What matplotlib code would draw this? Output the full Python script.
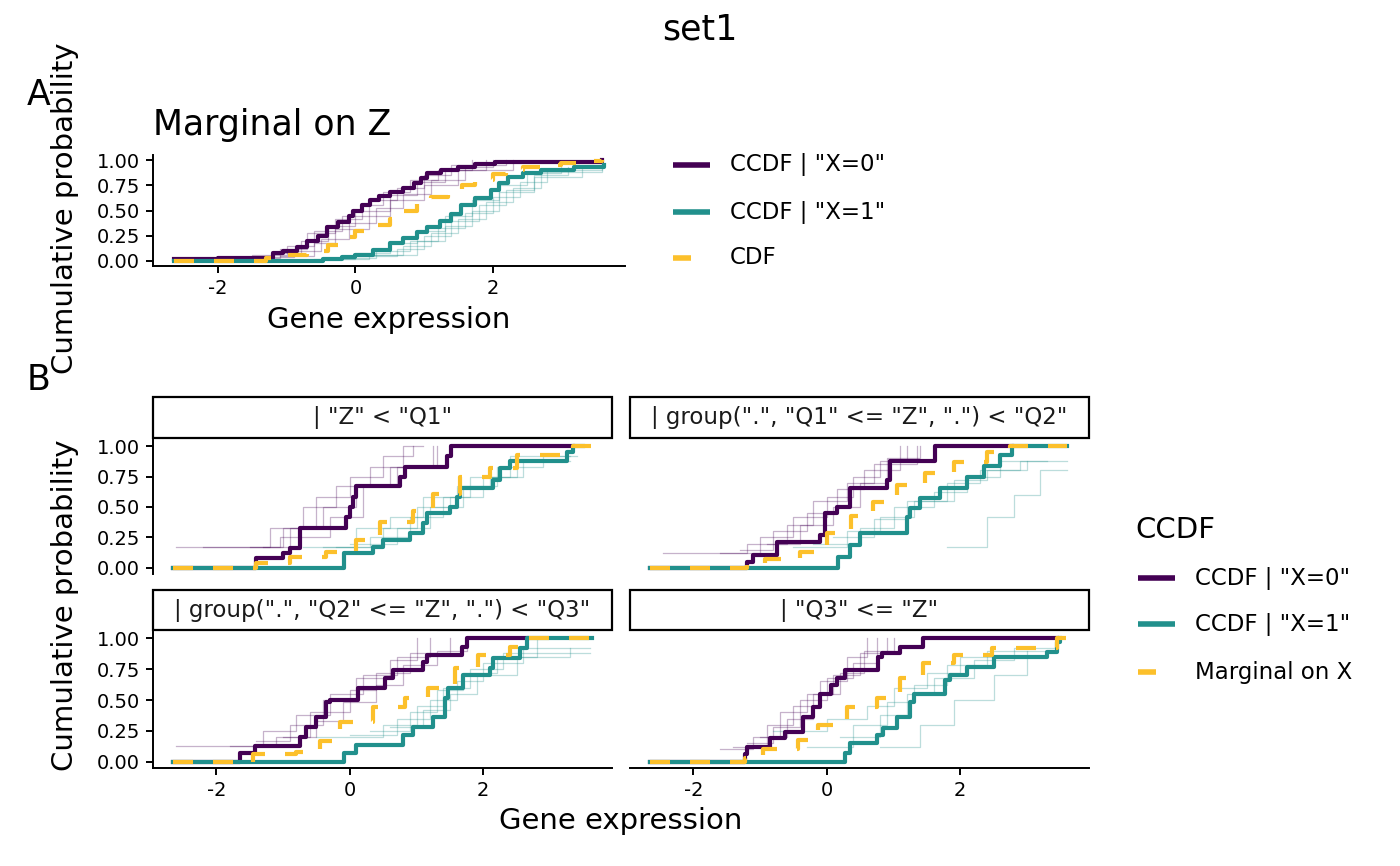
import matplotlib
matplotlib.use("Agg")
import matplotlib.pyplot as plt
from matplotlib.lines import Line2D
from matplotlib.patches import Rectangle

plt.rcParams['font.family'] = ['DejaVu Sans']
plt.rcParams['axes.unicode_minus'] = False

W, H = 1400, 866
PURPLE = '#440154'
TEAL = '#21908C'
YELLOW = '#FCC02B'

# ---- panel A: marginal on Z ----
a_ccdf0_x = [-2.65, -2.0, -1.2, -1.05, -0.85, -0.7, -0.55, -0.41, -0.25, -0.1, -0.03, 0.1, 0.22, 0.35, 0.51, 0.7, 0.85, 0.95, 1.05, 1.25, 1.5, 1.75, 2.03, 3.6]
a_ccdf0_y = [0.02, 0.03, 0.08, 0.1, 0.14, 0.2, 0.25, 0.34, 0.39, 0.45, 0.5, 0.55, 0.6, 0.64, 0.68, 0.72, 0.77, 0.82, 0.87, 0.9, 0.93, 0.96, 0.98, 1.0]
a_ccdf1_x = [-2.65, -0.47, -0.2, 0.0, 0.25, 0.51, 0.7, 0.9, 1.05, 1.24, 1.4, 1.54, 1.75, 1.98, 2.1, 2.22, 2.45, 2.7, 3.18, 3.63]
a_ccdf1_y = [0.0, 0.02, 0.04, 0.06, 0.11, 0.18, 0.23, 0.29, 0.34, 0.4, 0.47, 0.55, 0.62, 0.70, 0.77, 0.83, 0.87, 0.9, 0.93, 0.95]
a_cdf_x = [-2.65, -1.3, -1.0, -0.7, -0.4, -0.15, 0.0, 0.25, 0.5, 0.7, 0.9, 1.1, 1.35, 1.55, 1.75, 2.0, 2.2, 2.45, 2.7, 3.0, 3.4, 3.6]
a_cdf_y = [0.0, 0.03, 0.06, 0.1, 0.16, 0.24, 0.3, 0.36, 0.42, 0.5, 0.57, 0.63, 0.69, 0.75, 0.8, 0.86, 0.9, 0.93, 0.95, 0.97, 0.99, 1.0]

a_thin0 = [
    ([-2.0, -1.5, -1.0, -0.6, -0.2, 0.2, 0.6, 1.0, 1.4, 2.2], [0.02, 0.06, 0.15, 0.3, 0.45, 0.6, 0.72, 0.85, 0.95, 1.0]),
    ([-1.6, -1.1, -0.7, -0.3, 0.1, 0.4, 0.8, 1.2, 1.7], [0.03, 0.12, 0.28, 0.42, 0.55, 0.68, 0.8, 0.9, 1.0]),
    ([-1.3, -0.9, -0.5, -0.1, 0.3, 0.7, 1.1, 1.6, 2.0], [0.04, 0.1, 0.22, 0.38, 0.52, 0.66, 0.8, 0.93, 1.0]),
    ([-1.8, -1.2, -0.8, -0.4, 0.0, 0.5, 0.9, 1.3, 1.9], [0.02, 0.08, 0.2, 0.35, 0.5, 0.65, 0.78, 0.9, 1.0]),
    ([-1.1, -0.6, -0.3, 0.2, 0.5, 1.0, 1.5, 2.3], [0.05, 0.18, 0.32, 0.45, 0.6, 0.75, 0.9, 1.0]),
]
a_thin1 = [
    ([-0.6, 0.0, 0.5, 0.9, 1.3, 1.7, 2.1, 2.5, 3.0], [0.02, 0.08, 0.18, 0.3, 0.45, 0.6, 0.75, 0.87, 0.95]),
    ([-0.3, 0.3, 0.8, 1.2, 1.6, 2.0, 2.4, 2.8, 3.6], [0.03, 0.1, 0.2, 0.33, 0.48, 0.63, 0.78, 0.9, 0.95]),
    ([0.0, 0.6, 1.0, 1.4, 1.8, 2.2, 2.6, 3.1], [0.05, 0.12, 0.25, 0.4, 0.55, 0.7, 0.85, 0.93]),
    ([-0.5, 0.2, 0.7, 1.1, 1.5, 1.9, 2.3, 2.7, 3.6], [0.02, 0.06, 0.15, 0.28, 0.42, 0.58, 0.72, 0.88, 0.97]),
    ([0.2, 0.9, 1.3, 1.7, 2.1, 2.6, 3.3], [0.06, 0.2, 0.35, 0.5, 0.68, 0.83, 0.94]),
]

# ---- panel B: conditional on Z quartile ----
strip_labels = ['| "Z" < "Q1"',
                '| group(".", "Q1" <= "Z", ".") < "Q2"',
                '| group(".", "Q2" <= "Z", ".") < "Q3"',
                '| "Q3" <= "Z"']

b_ccdf0_x = [
    [-2.65, -1.4, -1.0, -0.9, -0.75, -0.05, 0.0, 0.05, 0.1, 0.75, 0.82, 1.45, 1.52, 3.35],
    [-2.65, -1.2, -1.1, -0.75, -0.1, -0.03, 0.15, 0.35, 0.9, 0.95, 1.62, 2.77],
    [-2.65, -1.65, -1.42, -0.75, -0.65, -0.5, -0.35, -0.3, 0.12, 0.52, 0.65, 1.1, 1.15, 1.68, 1.75, 2.65],
    [-2.65, -1.23, -1.2, -0.85, -0.63, -0.36, -0.21, -0.1, 0.07, 0.15, 0.27, 0.77, 0.82, 1.1, 1.44, 3.45],
]
b_ccdf0_y = [
    [0, 0.083, 0.125, 0.167, 0.33, 0.42, 0.5, 0.58, 0.67, 0.75, 0.83, 0.92, 1.0, 1.0],
    [0, 0.05, 0.11, 0.21, 0.27, 0.45, 0.5, 0.66, 0.72, 0.88, 1.0, 1.0],
    [0, 0.07, 0.13, 0.2, 0.28, 0.36, 0.48, 0.5, 0.6, 0.68, 0.74, 0.81, 0.86, 0.93, 1.0, 1.0],
    [0, 0.06, 0.12, 0.19, 0.24, 0.36, 0.44, 0.55, 0.62, 0.68, 0.74, 0.85, 0.88, 0.93, 1.0, 1.0],
]
b_ccdf1_x = [
    [-2.65, -0.08, 0.35, 0.5, 0.9, 1.1, 1.15, 1.5, 1.6, 1.65, 2.15, 2.25, 2.4, 3.25, 3.35, 3.5],
    [-2.65, 0.17, 0.35, 0.5, 1.2, 1.25, 1.4, 1.7, 2.1, 2.35, 2.6, 2.77, 3.6],
    [-2.65, -0.08, 0.1, 0.8, 0.95, 1.25, 1.42, 1.47, 1.7, 2.1, 2.15, 2.55, 2.65, 3.63],
    [-2.65, 0.27, 0.35, 0.75, 0.84, 1.05, 1.25, 1.3, 1.77, 1.85, 2.1, 2.5, 3.3, 3.45, 3.5],
]
b_ccdf1_y = [
    [0, 0.12, 0.17, 0.23, 0.29, 0.37, 0.45, 0.5, 0.58, 0.66, 0.72, 0.82, 0.88, 0.95, 1.0, 1.0],
    [0, 0.09, 0.19, 0.29, 0.42, 0.49, 0.57, 0.66, 0.75, 0.84, 0.93, 1.0, 1.0],
    [0, 0.07, 0.14, 0.22, 0.28, 0.36, 0.52, 0.6, 0.7, 0.76, 0.84, 0.92, 1.0, 1.0],
    [0, 0.07, 0.15, 0.22, 0.27, 0.36, 0.48, 0.55, 0.66, 0.7, 0.77, 0.85, 0.89, 0.97, 1.0],
]
b_cdf_x = [
    [-2.65, -1.4, -0.9, -0.35, 0.1, 0.45, 0.95, 1.25, 1.65, 2.1, 2.5, 3.2, 3.35, 3.63],
    [-2.65, -1.2, -0.93, -0.4, 0.0, 0.37, 0.69, 1.05, 1.47, 1.9, 2.4, 2.75, 3.6],
    [-2.65, -1.45, -0.8, -0.45, -0.15, 0.35, 0.82, 1.17, 1.57, 1.92, 2.4, 2.65, 3.63],
    [-2.65, -1.23, -0.96, -0.43, -0.13, 0.3, 0.75, 1.1, 1.44, 1.9, 2.47, 3.45, 3.6],
]
b_cdf_y = [
    [0, 0.04, 0.09, 0.13, 0.23, 0.38, 0.47, 0.61, 0.75, 0.82, 0.93, 0.95, 1.0, 1.0],
    [0, 0.02, 0.07, 0.13, 0.29, 0.43, 0.54, 0.68, 0.78, 0.87, 0.95, 1.0, 1.0],
    [0, 0.06, 0.08, 0.17, 0.32, 0.44, 0.52, 0.6, 0.76, 0.86, 0.93, 1.0, 1.0],
    [0, 0.03, 0.1, 0.18, 0.3, 0.44, 0.52, 0.68, 0.8, 0.86, 0.92, 1.0, 1.0],
]

b_thin0 = [
    [([-2.6, -1.2, -0.7, -0.2, 0.3, 0.8, 1.1], [0.17, 0.33, 0.5, 0.67, 0.83, 1.0, 1.0]),
     ([-2.2, -1.0, -0.4, 0.1, 0.6, 1.25], [0.17, 0.33, 0.5, 0.67, 0.83, 1.0]),
     ([-1.5, -0.9, -0.5, 0.0, 0.5, 0.95], [0.17, 0.33, 0.58, 0.75, 0.92, 1.0]),
     ([-1.3, -1.05, -0.3, 0.2, 0.7, 1.3], [0.17, 0.25, 0.42, 0.67, 0.83, 1.0])],
    [([-2.45, -1.0, -0.5, 0.0, 0.4, 0.8, 1.2], [0.12, 0.25, 0.42, 0.58, 0.75, 0.88, 1.0]),
     ([-1.6, -1.2, -0.6, -0.2, 0.3, 0.7, 1.35], [0.12, 0.2, 0.35, 0.55, 0.7, 0.85, 1.0]),
     ([-1.3, -0.8, -0.3, 0.15, 0.55, 1.1], [0.15, 0.3, 0.45, 0.65, 0.8, 1.0]),
     ([-0.9, -0.4, 0.1, 0.5, 0.9, 1.4], [0.2, 0.35, 0.5, 0.7, 0.9, 1.0])],
    [([-2.6, -1.3, -0.8, -0.3, 0.2, 0.7, 1.2], [0.13, 0.25, 0.38, 0.55, 0.7, 0.85, 1.0]),
     ([-1.8, -1.1, -0.6, 0.0, 0.4, 0.9, 1.5], [0.13, 0.2, 0.4, 0.58, 0.72, 0.88, 1.0]),
     ([-1.4, -0.9, -0.4, 0.1, 0.6, 1.0], [0.17, 0.3, 0.5, 0.68, 0.82, 1.0]),
     ([-1.0, -0.5, -0.1, 0.4, 0.8, 1.3, 1.75], [0.2, 0.33, 0.48, 0.62, 0.78, 0.9, 1.0])],
    [([-1.4, -0.9, -0.5, -0.1, 0.3, 0.6], [0.12, 0.3, 0.45, 0.65, 0.85, 1.0]),
     ([-1.6, -1.1, -0.7, -0.3, 0.1, 0.5, 0.9], [0.1, 0.2, 0.4, 0.55, 0.7, 0.88, 1.0]),
     ([-1.2, -0.8, -0.4, 0.0, 0.4, 0.75], [0.15, 0.28, 0.5, 0.68, 0.8, 1.0]),
     ([-1.0, -0.6, -0.2, 0.2, 0.55, 1.0], [0.2, 0.35, 0.55, 0.72, 0.9, 1.0])],
]
b_thin1 = [
    [([-0.7, 0.1, 0.6, 1.1, 1.6, 2.1, 2.6, 3.3], [0.17, 0.33, 0.42, 0.58, 0.67, 0.75, 0.88, 0.88]),
     ([-0.4, 0.3, 0.9, 1.4, 1.8, 2.4, 3.3], [0.17, 0.25, 0.42, 0.58, 0.75, 0.92, 0.92]),
     ([-0.2, 0.5, 1.2, 1.7, 2.2, 2.9, 3.4], [0.17, 0.33, 0.5, 0.67, 0.83, 0.92, 0.92]),
     ([0.0, 0.7, 1.0, 1.5, 2.0, 2.5, 3.0], [0.2, 0.33, 0.5, 0.58, 0.75, 0.88, 0.88])],
    [([-0.5, 0.3, 0.8, 1.3, 1.8, 2.3, 2.9, 3.6], [0.17, 0.3, 0.42, 0.55, 0.7, 0.8, 0.88, 0.88]),
     ([-0.2, 0.5, 1.0, 1.6, 2.1, 2.6, 3.3], [0.2, 0.33, 0.5, 0.62, 0.75, 0.88, 0.88]),
     ([0.1, 0.7, 1.2, 1.9, 2.4, 3.0], [0.25, 0.4, 0.55, 0.72, 0.8, 0.88]),
     ([1.8, 2.4, 2.8, 3.2, 3.6], [0.17, 0.42, 0.6, 0.8, 0.8])],
    [([-0.5, 0.5, 1.0, 1.4, 1.8, 2.3, 3.6], [0.2, 0.3, 0.45, 0.6, 0.75, 0.88, 0.88]),
     ([0.0, 0.7, 1.2, 1.6, 2.0, 2.6, 3.6], [0.22, 0.35, 0.5, 0.65, 0.8, 0.92, 0.92]),
     ([0.3, 0.9, 1.3, 1.7, 2.2, 2.8], [0.25, 0.4, 0.58, 0.72, 0.85, 1.0]),
     ([0.6, 1.1, 1.5, 1.9, 2.5, 3.3], [0.28, 0.42, 0.55, 0.7, 0.85, 0.92])],
    [([-0.8, 0.0, 0.6, 1.0, 1.5, 2.0, 3.3], [0.25, 0.35, 0.45, 0.6, 0.72, 0.85, 0.85]),
     ([-0.3, 0.4, 0.9, 1.3, 1.8, 2.4, 3.3], [0.12, 0.3, 0.48, 0.62, 0.78, 0.9, 0.9]),
     ([0.2, 0.8, 1.2, 1.6, 2.2, 2.8, 3.4], [0.2, 0.38, 0.55, 0.68, 0.82, 0.92, 0.92]),
     ([0.8, 1.4, 1.9, 2.5, 3.0], [0.12, 0.3, 0.5, 0.7, 0.9])],
]

x_ticks = [-2, 0, 2]
y_ticks = [0.0, 0.25, 0.5, 0.75, 1.0]
y_ticklabels = ['0.00', '0.25', '0.50', '0.75', '1.00']

TICK_FS = 14
LAB_FS = 21
TITLE_FS = 25
LEG_FS = 16.5

fig = plt.figure(figsize=(W / 100, H / 100), dpi=100)


def add_ax(left, top, right, bottom):
    return fig.add_axes([left / W, 1 - bottom / H, (right - left) / W, (bottom - top) / H])


def style(ax, show_x=True, show_y=True):
    ax.set_xlim(-2.95, 3.93)
    ax.set_ylim(-0.05, 1.05)
    for s in ['top', 'right']:
        ax.spines[s].set_visible(False)
    for s in ['left', 'bottom']:
        ax.spines[s].set_linewidth(1.4)
    ax.spines['bottom'].set_visible(show_x)
    ax.spines['left'].set_visible(show_y)
    ax.set_xticks(x_ticks)
    ax.set_yticks(y_ticks)
    ax.set_yticklabels(y_ticklabels)
    ax.tick_params(length=5, width=1.4, labelsize=TICK_FS, pad=4.5,
                   bottom=show_x, labelbottom=show_x, left=show_y, labelleft=show_y)
    ax.patch.set_alpha(0)


def draw(ax, thin0, thin1, p_x, p_y, t_x, t_y, c_x, c_y):
    for xs, ys in thin0:
        ax.step(xs, ys, where='post', color=PURPLE, lw=0.9, alpha=0.3)
    for xs, ys in thin1:
        ax.step(xs, ys, where='post', color=TEAL, lw=0.9, alpha=0.3)
    ax.step(p_x, p_y, where='post', color=PURPLE, lw=3)
    ax.step(t_x, t_y, where='post', color=TEAL, lw=3)
    ax.step(c_x, c_y, where='post', color=YELLOW, lw=3, linestyle=(0, (4.8, 4.8)))


# panel A
axA = add_ax(153, 155, 625, 266)
style(axA)
draw(axA, a_thin0, a_thin1, a_ccdf0_x, a_ccdf0_y, a_ccdf1_x, a_ccdf1_y, a_cdf_x, a_cdf_y)
fig.text(389 / W, 1 - 320 / H, 'Gene expression', ha='center', va='center', fontsize=LAB_FS)

# panel B facets
boxes = [(153, 440, 612, 574), (630, 440, 1089, 574), (153, 632, 612, 768), (630, 632, 1089, 768)]
strips = [(397, 438), (397, 438), (590, 630), (590, 630)]
for i, (l, t, r, b) in enumerate(boxes):
    ax = add_ax(l, t, r, b)
    style(ax, show_x=(i >= 2), show_y=(i % 2 == 0))
    draw(ax, b_thin0[i], b_thin1[i], b_ccdf0_x[i], b_ccdf0_y[i], b_ccdf1_x[i], b_ccdf1_y[i],
         b_cdf_x[i], b_cdf_y[i])
    st, sb = strips[i]
    fig.patches.append(Rectangle((l / W, 1 - sb / H), (r - l) / W, (sb - st) / H,
                                 transform=fig.transFigure, facecolor='white',
                                 edgecolor='black', lw=1.6))
    fig.text((l + r) / 2 / W, 1 - (st + sb) / 2 / H, strip_labels[i], ha='center', va='center',
             fontsize=LEG_FS, color='#1a1a1a')

# titles and labels
fig.text(700 / W, 1 - 30 / H, 'set1', ha='center', va='center', fontsize=TITLE_FS)
fig.text(153 / W, 1 - 125 / H, 'Marginal on Z', ha='left', va='center', fontsize=TITLE_FS)
fig.text(27 / W, 1 - 95 / H, 'A', ha='left', va='center', fontsize=TITLE_FS)
fig.text(27 / W, 1 - 380 / H, 'B', ha='left', va='center', fontsize=TITLE_FS)
fig.text(65 / W, 1 - 208 / H, 'Cumulative probability', rotation=90, ha='center', va='center',
         fontsize=LAB_FS)
fig.text(65 / W, 1 - 605 / H, 'Cumulative probability', rotation=90, ha='center', va='center',
         fontsize=LAB_FS)
fig.text(621 / W, 1 - 821 / H, 'Gene expression', ha='center', va='center', fontsize=LAB_FS)


def legend_entry(x0, y, color, label, short=False):
    x1 = x0 + (18 if short else 37)
    fig.lines.append(Line2D([x0 / W, x1 / W], [1 - y / H, 1 - y / H], transform=fig.transFigure,
                            color=color, lw=4, solid_capstyle='butt'))
    fig.text((x0 + 57) / W, 1 - y / H, label, ha='left', va='center', fontsize=LEG_FS)


legend_entry(673, 165, PURPLE, 'CCDF | "X=0"')
legend_entry(673, 212, TEAL, 'CCDF | "X=1"')
legend_entry(673, 258, YELLOW, 'CDF', short=True)

fig.text(1135 / W, 1 - 530 / H, 'CCDF', ha='left', va='center', fontsize=LAB_FS)
legend_entry(1138, 578, PURPLE, 'CCDF | "X=0"')
legend_entry(1138, 624, TEAL, 'CCDF | "X=1"')
legend_entry(1138, 672, YELLOW, 'Marginal on X', short=True)

fig.savefig('out.png', dpi=100)
